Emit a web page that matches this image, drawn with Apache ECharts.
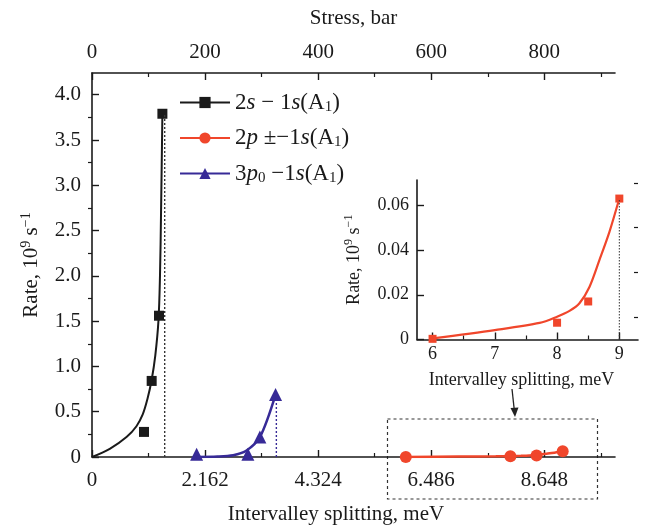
<!DOCTYPE html>
<html>
<head>
<meta charset="utf-8">
<script src="https://cdn.jsdelivr.net/npm/echarts@6/dist/echarts.min.js"></script>
<style>
  html, body { margin: 0; padding: 0; background: #fff; }
  #chart { width: 649px; height: 531px; }
</style>
</head>
<body>
<div id="chart"></div>
<script>
// tick values
const splitTicks = [0, 2.162, 4.324, 6.486, 8.648];
const splitMinor = [1.081, 3.243, 5.405, 7.567, 9.729];
const stressTicks = [0, 200, 400, 600, 800];
const stressMinor = [100, 300, 500, 700, 900];
const rateTicks = [0, 0.5, 1.0, 1.5, 2.0, 2.5, 3.0, 3.5, 4.0];
const rateMinor = [0.25, 0.75, 1.25, 1.75, 2.25, 2.75, 3.25, 3.75];
const insetXTicks = [6, 7, 8, 9];
const insetXMinor = [6.5, 7.5, 8.5];
const insetYTicks = [0, 0.02, 0.04, 0.06];
const insetYMinor = [0.01, 0.03, 0.05, 0.07];

// 2s - 1s(A1)
const s2Points = [[0.994, 0.277], [1.141, 0.84], [1.281, 1.56], [1.346, 3.79]];
const s2Curve = [[0, 0], [0.34, 0.09], [0.66, 0.22], [0.85, 0.34], [0.97, 0.47], [1.06, 0.64],
  [1.14, 0.85], [1.21, 1.12], [1.27, 1.5], [1.3, 2.0], [1.32, 2.7], [1.346, 3.79]];
const s2Edge = [[1.39, 0], [1.39, 3.79]];

// 2p± - 1s(A1)
const p2Points = [[6, 0.0003], [8, 0.0075], [8.5, 0.017], [9, 0.063]];
const p2Curve = [[6, 0.0005], [7, 0.0042], [7.72, 0.0074], [8, 0.0102], [8.2, 0.0128], [8.36, 0.0162],
  [8.52, 0.0235], [8.68, 0.0355], [8.84, 0.048], [9, 0.063]];
const p2Edge = [[9, 0], [9, 0.063]];

// 3p0 - 1s(A1)
const p3Points = [[2.0, 0.03], [2.98, 0.03], [3.21, 0.22], [3.51, 0.69]];
const p3Curve = [[2.0, 0.0], [2.4, 0.005], [2.7, 0.02], [2.94, 0.066], [3.21, 0.22], [3.51, 0.69]];
const p3Edge = [[3.525, 0], [3.525, 0.69]];

const serif = 'Liberation Serif';
const ink = '#1a1a1a';
const red = '#f0462b';
const blue = '#372a97';

const chart = echarts.init(document.getElementById('chart'));

const base = { fontFamily: serif, fontSize: 23, color: ink, lineHeight: 24 };
const legendRich = {
  n: base,
  i: Object.assign({}, base, { fontStyle: 'italic' }),
  sub: { fontFamily: serif, fontSize: 15, color: ink, lineHeight: 12, verticalAlign: 'bottom' }
};
const legendText = {
  's2': '{n|2}{i|s}{n| − 1}{i|s}{n|(A}{sub|1}{n|)}',
  'p2': '{n|2}{i|p}{n| ±−1}{i|s}{n|(A}{sub|1}{n|)}',
  'p3': '{n|3}{i|p}{sub|0}{n| −1}{i|s}{n|(A}{sub|1}{n|)}'
};

function rateName(size) {
  return {
    fontFamily: serif, fontSize: size, color: ink,
    rich: {
      n: { fontFamily: serif, fontSize: size, color: ink, lineHeight: size + 4 },
      sup: { fontFamily: serif, fontSize: Math.round(size * 0.66), color: ink, lineHeight: 10, verticalAlign: 'top' }
    }
  };
}
const rateText = '{n|Rate, 10}{sup|9}{n| s}{sup|−1}';

function minorAxis(extra) {
  return Object.assign({
    type: 'value',
    axisLine: { show: false },
    axisLabel: { show: false },
    splitLine: { show: false }
  }, extra);
}

const axisLine = { show: true, lineStyle: { color: ink, width: 1.6 } };
const label = (size, margin, fmt) => ({ fontFamily: serif, fontSize: size, color: ink, margin: margin, formatter: fmt });

chart.setOption({
  animation: false,
  backgroundColor: '#fff',
  grid: [
    { left: 92, right: 34, top: 73, bottom: 74 },
    { left: 417, right: 11, top: 180, bottom: 191.5 }
  ],
  legend: {
    data: ['s2', 'p2', 'p3'],
    orient: 'vertical',
    left: 179, top: 91, padding: 0,
    itemWidth: 50, itemHeight: 14, itemGap: 12,
    formatter: (name) => legendText[name],
    textStyle: { rich: legendRich }
  },
  xAxis: [
    {
      type: 'value', gridIndex: 0, position: 'bottom', min: 0, max: 10,
      name: 'Intervalley splitting, meV', nameLocation: 'middle', nameGap: 47,
      nameTextStyle: { fontFamily: serif, fontSize: 21, color: ink, padding: [0, 35, 0, 0] },
      axisLine: axisLine, splitLine: { show: false },
      axisTick: { inside: true, length: 7, customValues: splitTicks, lineStyle: { color: ink, width: 1.4 } },
      axisLabel: Object.assign(label(21, 13, (v) => v === 0 ? '0' : v.toFixed(3)), { customValues: splitTicks })
    },
    minorAxis({ gridIndex: 0, position: 'bottom', min: 0, max: 10,
      axisTick: { inside: true, length: 4, customValues: splitMinor, lineStyle: { color: ink, width: 1.2 } } }),
    {
      type: 'value', gridIndex: 0, position: 'top', min: 0, max: 925,
      name: 'Stress, bar', nameLocation: 'middle', nameGap: 44,
      nameTextStyle: { fontFamily: serif, fontSize: 21, color: ink },
      axisLine: axisLine, splitLine: { show: false },
      axisTick: { inside: true, length: 7, customValues: stressTicks, lineStyle: { color: ink, width: 1.4 } },
      axisLabel: Object.assign(label(21, 10, (v) => String(v)), { customValues: stressTicks })
    },
    minorAxis({ gridIndex: 0, position: 'top', min: 0, max: 925,
      axisTick: { inside: true, length: 4, customValues: stressMinor, lineStyle: { color: ink, width: 1.2 } } }),
    {
      type: 'value', gridIndex: 1, position: 'bottom', min: 5.75, max: 9.3,
      name: 'Intervalley splitting, meV', nameLocation: 'middle', nameGap: 32,
      nameTextStyle: { fontFamily: serif, fontSize: 18, color: ink, padding: [0, 12, 0, 0] },
      axisLine: axisLine, splitLine: { show: false },
      axisTick: { inside: true, length: 7, customValues: insetXTicks, lineStyle: { color: ink, width: 1.4 } },
      axisLabel: Object.assign(label(18, 6, (v) => String(v)), { customValues: insetXTicks })
    },
    minorAxis({ gridIndex: 1, position: 'bottom', min: 5.75, max: 9.3,
      axisTick: { inside: true, length: 4, customValues: insetXMinor, lineStyle: { color: ink, width: 1.2 } } })
  ],
  yAxis: [
    {
      type: 'value', gridIndex: 0, min: 0, max: 4.24,
      name: rateText, nameLocation: 'middle', nameGap: 48,
      nameTextStyle: rateName(21),
      axisLine: axisLine, splitLine: { show: false },
      axisTick: { inside: true, length: 7, customValues: rateTicks, lineStyle: { color: ink, width: 1.4 } },
      axisLabel: Object.assign(label(21, 11, (v) => v === 0 ? '0' : v.toFixed(1)), { customValues: rateTicks })
    },
    minorAxis({ gridIndex: 0, min: 0, max: 4.24,
      axisTick: { inside: true, length: 4, customValues: rateMinor, lineStyle: { color: ink, width: 1.2 } } }),
    {
      type: 'value', gridIndex: 1, min: 0, max: 0.0713,
      name: rateText, nameLocation: 'middle', nameGap: 52,
      nameTextStyle: rateName(18),
      axisLine: axisLine, splitLine: { show: false },
      axisTick: { inside: true, length: 7, customValues: insetYTicks, lineStyle: { color: ink, width: 1.4 } },
      axisLabel: Object.assign(label(18, 8, (v) => v === 0 ? '0' : v.toFixed(2)), { customValues: insetYTicks })
    },
    minorAxis({ gridIndex: 1, min: 0, max: 0.0713,
      axisTick: { inside: true, length: 4, customValues: insetYMinor, lineStyle: { color: ink, width: 1.2 } } })
  ],
  series: [
    { name: 's2', type: 'line', data: s2Curve, smooth: 0.35, showSymbol: false, symbol: 'rect', symbolSize: 10,
      color: ink, lineStyle: { color: ink, width: 2 }, itemStyle: { color: ink } },
    { type: 'scatter', data: s2Points, symbol: 'rect', symbolSize: 10, itemStyle: { color: ink, opacity: 1 } },
    { type: 'line', data: s2Edge, symbol: 'none', lineStyle: { color: '#333', width: 1.4, type: [2, 2] } },

    { name: 'p2', type: 'line', data: p2Curve, smooth: 0.3, showSymbol: false, symbol: 'circle', symbolSize: 11,
      color: red, lineStyle: { color: red, width: 2.5 }, itemStyle: { color: red } },
    { type: 'scatter', data: p2Points, symbol: 'circle', symbolSize: 12, itemStyle: { color: red, opacity: 1 } },

    { name: 'p3', type: 'line', data: p3Curve, smooth: 0.3, showSymbol: false, symbol: 'triangle', symbolSize: 13,
      color: blue, lineStyle: { color: blue, width: 2.5 }, itemStyle: { color: blue } },
    { type: 'scatter', data: p3Points, symbol: 'triangle', symbolSize: 13, itemStyle: { color: blue, opacity: 1 } },
    { type: 'line', data: p3Edge, symbol: 'none', lineStyle: { color: blue, width: 1.4, type: [2, 2] } },

    { type: 'line', xAxisIndex: 4, yAxisIndex: 2, data: p2Curve, smooth: 0.3, showSymbol: false,
      lineStyle: { color: red, width: 2.2 } },
    { type: 'scatter', xAxisIndex: 4, yAxisIndex: 2, data: p2Points, symbol: 'rect', symbolSize: 8,
      itemStyle: { color: red, opacity: 1 } },
    { type: 'line', xAxisIndex: 4, yAxisIndex: 2, data: p2Edge, symbol: 'none',
      lineStyle: { color: '#333', width: 1, type: [1.5, 1.5] } }
  ],
  graphic: [
    { type: 'rect', shape: { x: 387.5, y: 419, width: 210, height: 80 }, silent: true,
      style: { fill: 'none', stroke: '#333', lineWidth: 1.2, lineDash: [3, 3] } },
    { type: 'line', shape: { x1: 512, y1: 389, x2: 514.5, y2: 412 }, silent: true,
      style: { stroke: '#222', lineWidth: 1.3 } },
    { type: 'polygon', shape: { points: [[510.5, 408], [518.5, 407.5], [515, 417]] }, silent: true,
      style: { fill: '#222' } }
  ]
});
</script>
</body>
</html>
